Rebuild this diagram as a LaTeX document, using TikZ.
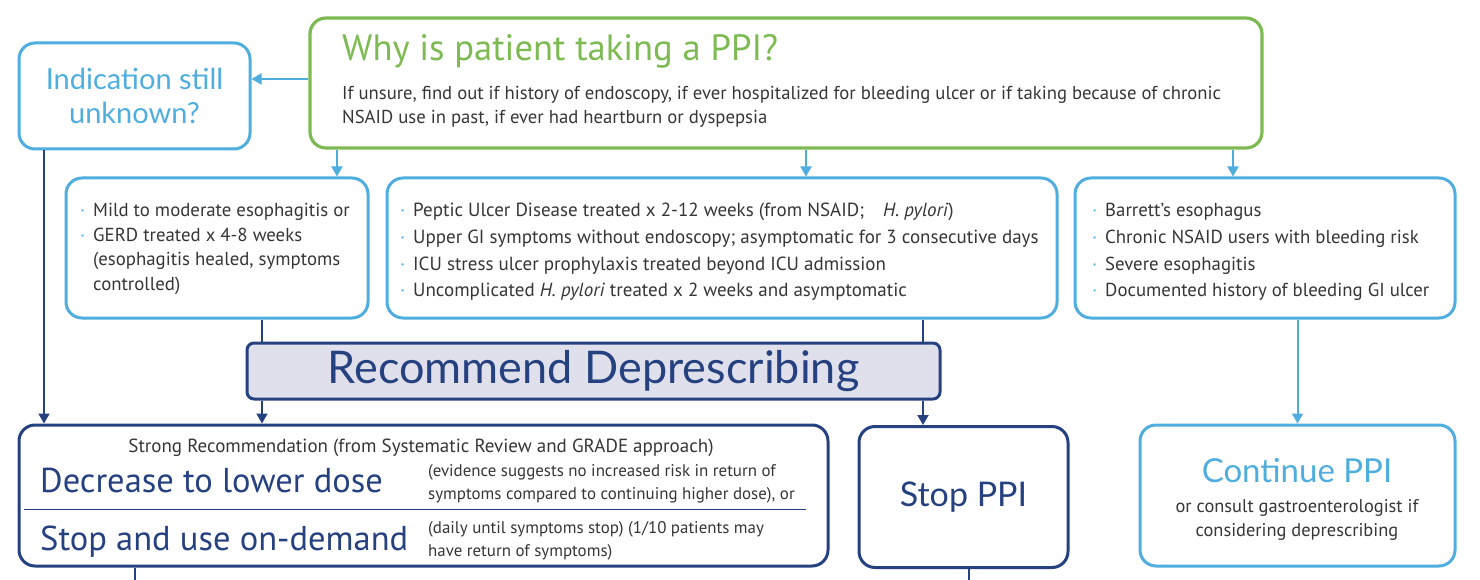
\documentclass[tikz,border=0pt]{standalone}
\usepackage{fontspec}
\setmainfont{PT Sans}
\newfontfamily\headfont{Lato}
\usetikzlibrary{arrows.meta}
\definecolor{leafgreen}{HTML}{7DBB52}
\definecolor{sky}{HTML}{4FAEDE}
\definecolor{navy}{HTML}{26417F}
\definecolor{lilac}{HTML}{DFE0EC}
\definecolor{ink}{HTML}{363636}
\newcommand{\bul}{\makebox[13pt][l]{\textcolor{sky}{·}}}
\newcommand{\ind}{\hspace*{13pt}}
\newcommand{\fs}[2]{\fontsize{#1}{#2}\selectfont}

\begin{document}
\begin{tikzpicture}[
  x=1pt,y=-1pt,
  font=\fs{18.8}{24.7},
  gbox/.style={draw=leafgreen,line width=3.2pt,rounded corners=16pt,fill=white},
  sbox/.style={draw=sky,line width=3pt,rounded corners=16pt,fill=white},
  nbox/.style={draw=navy,line width=3pt,rounded corners=16pt,fill=white},
  dbox/.style={draw=navy,line width=3pt,rounded corners=7pt,fill=lilac},
  txt/.style={inner sep=0pt,text=ink,align=left},
  head/.style={inner sep=0pt,font=\headfont\fs{29}{34},align=center},
  sarr/.style={-{Triangle[length=10pt,width=11pt]},line width=2pt,sky},
  narr/.style={-{Triangle[length=10pt,width=11pt]},line width=2pt,navy},
  nline/.style={line width=2pt,navy}
]
\useasboundingbox (0,0) rectangle (1480,580);
% boxes
\node[gbox,minimum width=952,minimum height=130] (why) at (786,83) {};
\node[sbox,minimum width=231,minimum height=106,head,text=sky] (unk) at (134.5,96) {Indication still\\unknown?};
\node[sbox,minimum width=302,minimum height=140] (mild) at (217,248) {};
\node[sbox,minimum width=670,minimum height=140] (pud) at (722,248) {};
\node[sbox,minimum width=380,minimum height=140] (barr) at (1265,248) {};
\node[dbox,minimum width=693,minimum height=56,inner sep=0pt,text=navy,font=\headfont\fs{45}{48}] (depr) at (593.5,371) {Recommend Deprescribing};
\node[nbox,minimum width=809,minimum height=141] (strong) at (423.5,495.5) {};
\node[nbox,minimum width=209,minimum height=141,head,text=navy,font=\headfont\fs{34}{38}] (stop) at (963.5,497) {Stop PPI};
\node[sbox,minimum width=315,minimum height=141] (cont) at (1297.5,495.5) {};
% texts
\node[txt,anchor=base west,text=leafgreen,font=\fs{36.6}{40}] (whyhead) at (342,61) {Why is patient taking a PPI?};
\node[txt,anchor=base west,font=\fs{18.7}{24}] (whynote) at (342,124) {If unsure, find out if history of endoscopy, if ever hospitalized for bleeding ulcer or if taking because of chronic\\NSAID use in past, if ever had heartburn or dyspepsia};
\node[txt,anchor=west] (mildtxt) at (80,249) {\bul Mild to moderate esophagitis or\\\bul GERD treated x 4-8 weeks\\\ind (esophagitis healed, symptoms\\\ind controlled)};
\node[txt,anchor=west,font=\fs{19}{26.7}] (pudtxt) at (400,252) {\bul Peptic Ulcer Disease treated x 2-12 weeks (from NSAID;\quad\textit{H. pylori})\\\bul Upper GI symptoms without endoscopy; asymptomatic for 3 consecutive days\\\bul ICU stress ulcer prophylaxis treated beyond ICU admission\\\bul Uncomplicated \textit{H. pylori} treated x 2 weeks and asymptomatic};
\node[txt,anchor=west,font=\fs{18.8}{26.7}] (barrtxt) at (1092,252) {\bul Barrett’s esophagus\\\bul Chronic NSAID users with bleeding risk\\\bul Severe esophagitis\\\bul Documented history of bleeding GI ulcer};
\node[txt,anchor=base,font=\fs{19}{20}] (grade) at (421,452) {Strong Recommendation (from Systematic Review and GRADE approach)};
\node[txt,anchor=base west,text=navy,font=\fs{34.5}{36}] (lower) at (40,492) {Decrease to lower dose};
\node[txt,anchor=base west,font=\fs{16.9}{23}] (lowernote) at (428,499) {(evidence suggests no increased risk in return of\\symptoms compared to continuing higher dose), or};
\node[txt,anchor=base west,text=navy,font=\fs{34.5}{36}] (demand) at (40,550) {Stop and use on-demand};
\node[txt,anchor=base west,font=\fs{16.9}{23}] (demandnote) at (428,556) {(daily until symptoms stop) (1/10 patients may\\have return of symptoms)};
\node[head,anchor=base,text=sky,font=\headfont\fs{33}{36}] (conthead) at (1297,482) {Continue PPI};
\node[txt,anchor=base,align=center,font=\fs{18.4}{24}] (contnote) at (1297,536) {or consult gastroenterologist if\\considering deprescribing};
\draw[navy,line width=1pt] (strong.west |- 0,509) ++(6,0) coordinate (rulel) -- (806,509) coordinate (ruler);
% guides for the connectors
\coordinate (gmild) at (337,0);
\coordinate (gpud) at (806,0);
\coordinate (gbarr) at (1233,0);
\coordinate (gunk) at (44,0);
\coordinate (gleft) at (262,0);
\coordinate (gright) at (923,0);
\coordinate (outl) at (135,585);
\coordinate (outr) at (969,585);
% connectors
\draw[sarr] ([yshift=4pt]why.west) -- ([yshift=4pt]why.west -| unk.east);
\draw[sarr] (why.south -| gmild) -- (mild.north -| gmild);
\draw[sarr] (why.south -| gpud) -- (pud.north -| gpud);
\draw[sarr] (why.south -| gbarr) -- (barr.north -| gbarr);
\draw[sarr] (barr.south -| cont.north) -- (cont.north);
\draw[narr] (unk.south -| gunk) -- (strong.north -| gunk);
\draw[nline] (mild.south -| gleft) -- (depr.north -| gleft);
\draw[narr] (depr.south -| gleft) -- (strong.north -| gleft);
\draw[nline] (pud.south -| gright) -- (depr.north -| gright);
\draw[narr] (depr.south -| gright) -- (stop.north -| gright);
\draw[nline] (strong.south -| outl) -- (outl);
\draw[nline] (stop.south -| outr) -- (outr);
\end{tikzpicture}
\end{document}
